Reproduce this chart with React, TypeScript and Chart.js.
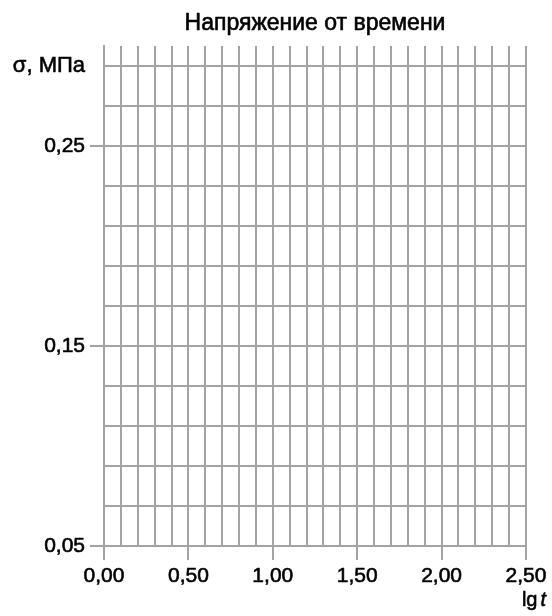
import React, { useEffect, useRef } from "react";
import { Chart, registerables } from "chart.js";

Chart.register(...registerables);

// Axis ranges and grid steps
const xMin = 0;
const xMax = 2.5;
const xGridStep = 0.1;
const xLabelValues = [0, 0.5, 1.0, 1.5, 2.0, 2.5];
const xLabelTexts = ["0,00", "0,50", "1,00", "1,50", "2,00", "2,50"];

const yMin = 0.05;
const yMax = 0.3;
const yGridStep = 0.02;
const yLabelValues = [0.05, 0.15, 0.25];
const yLabelTexts = ["0,05", "0,15", "0,25"];
const yTitleValue = 0.29;
const yTitleText = "σ, МПа";

const chartTitle = "Напряжение от времени";
const xTitleRegular = "lg";
const xTitleItalic = "t";

// The chart is an empty grid (no data series)
const seriesValues: { x: number; y: number }[] = [];

const FONT = "'Liberation Sans', Arial, Helvetica, sans-serif";
const GRID = "#a3a3a3";
const STROKE = 0.6;

const near = (a: number, b: number) => Math.abs(a - b) < 1e-6;

function buildTicks(min: number, max: number, step: number) {
  const out: { value: number }[] = [];
  const n = Math.round((max - min) / step);
  for (let i = 0; i <= n; i++) {
    out.push({ value: Math.round((min + i * step) * 1000) / 1000 });
  }
  return out;
}

function drawText(ctx: CanvasRenderingContext2D, t: string, x: number, y: number) {
  ctx.lineWidth = STROKE;
  ctx.strokeStyle = "#000";
  ctx.lineJoin = "round";
  ctx.strokeText(t, x, y);
  ctx.fillText(t, x, y);
}

const textPlugin = {
  id: "textLabels",
  afterDraw(chart: any) {
    const ctx = chart.ctx as CanvasRenderingContext2D;
    const xs = chart.scales.x;
    const area = chart.chartArea;
    ctx.save();
    ctx.fillStyle = "#000";

    // Chart title, centred over the plot area
    ctx.font = `23px ${FONT}`;
    ctx.textAlign = "center";
    ctx.textBaseline = "middle";
    drawText(ctx, chartTitle, (area.left + area.right) / 2, 24);

    // x-axis title "lg t"
    ctx.textBaseline = "alphabetic";
    ctx.textAlign = "left";
    ctx.font = `italic 20px ${FONT}`;
    const wT = ctx.measureText(xTitleItalic).width;
    ctx.font = `20px ${FONT}`;
    const wL = ctx.measureText(xTitleRegular).width;
    const right = xs.right + 20;
    const base = xs.bottom - 10;
    const gap = 3;
    drawText(ctx, xTitleRegular, right - wT - gap - wL, base);
    ctx.font = `italic 20px ${FONT}`;
    drawText(ctx, xTitleItalic, right - wT, base);
    ctx.restore();
  },
};

export default function App() {
  const ref = useRef<HTMLCanvasElement | null>(null);

  useEffect(() => {
    if (!ref.current) return;
    const chart = new Chart(ref.current, {
      type: "scatter",
      data: {
        datasets: [
          {
            label: "σ",
            data: seriesValues,
            borderColor: "#000",
            backgroundColor: "#000",
          },
        ],
      },
      options: {
        responsive: false,
        animation: false,
        layout: { padding: { left: 0, right: 26, top: 46, bottom: 0 } },
        plugins: {
          legend: { display: false },
          tooltip: { enabled: false },
          title: { display: false },
        },
        scales: {
          x: {
            type: "linear",
            min: xMin,
            max: xMax,
            afterBuildTicks: (scale: any) => {
              scale.ticks = buildTicks(xMin, xMax, xGridStep);
            },
            afterFit: (scale: any) => {
              scale.height = 70;
            },
            ticks: {
              autoSkip: false,
              maxRotation: 0,
              minRotation: 0,
              padding: 4,
              color: "#000",
              textStrokeColor: "#000",
              textStrokeWidth: STROKE,
              font: { size: 21, family: FONT },
              callback: (v: any) => {
                const i = xLabelValues.findIndex((x) => near(x, Number(v)));
                return i >= 0 ? xLabelTexts[i] : "";
              },
            },
            grid: {
              color: GRID,
              lineWidth: 2,
              drawTicks: true,
              tickLength: 14,
              tickColor: (ctx: any) =>
                ctx.tick && xLabelValues.some((x) => near(x, ctx.tick.value))
                  ? GRID
                  : "rgba(0,0,0,0)",
            },
            border: { display: true, color: GRID, width: 2 },
          },
          y: {
            type: "linear",
            min: yMin,
            max: yMax,
            afterBuildTicks: (scale: any) => {
              scale.ticks = buildTicks(yMin, yTitleValue, yGridStep);
            },
            afterFit: (scale: any) => {
              scale.width = 104;
            },
            ticks: {
              autoSkip: false,
              padding: 5,
              color: "#000",
              textStrokeColor: "#000",
              textStrokeWidth: STROKE,
              font: (ctx: any) => ({
                size: ctx.tick && near(ctx.tick.value, yTitleValue) ? 22 : 21,
                family: FONT,
              }),
              callback: (v: any) => {
                const n = Number(v);
                if (near(n, yTitleValue)) return yTitleText;
                const i = yLabelValues.findIndex((y) => near(y, n));
                return i >= 0 ? yLabelTexts[i] : "";
              },
            },
            grid: {
              color: GRID,
              lineWidth: 2,
              drawTicks: true,
              tickLength: 14,
              tickColor: (ctx: any) =>
                ctx.tick && yLabelValues.some((y) => near(y, ctx.tick.value))
                  ? GRID
                  : "rgba(0,0,0,0)",
            },
            border: { display: true, color: GRID, width: 2 },
          },
        },
      },
      plugins: [textPlugin],
    } as any);
    return () => chart.destroy();
  }, []);

  return (
    <div style={{ position: "absolute", left: 0, top: 0, width: 552, height: 616, background: "#fff" }}>
      <canvas ref={ref} width={552} height={616} />
    </div>
  );
}
